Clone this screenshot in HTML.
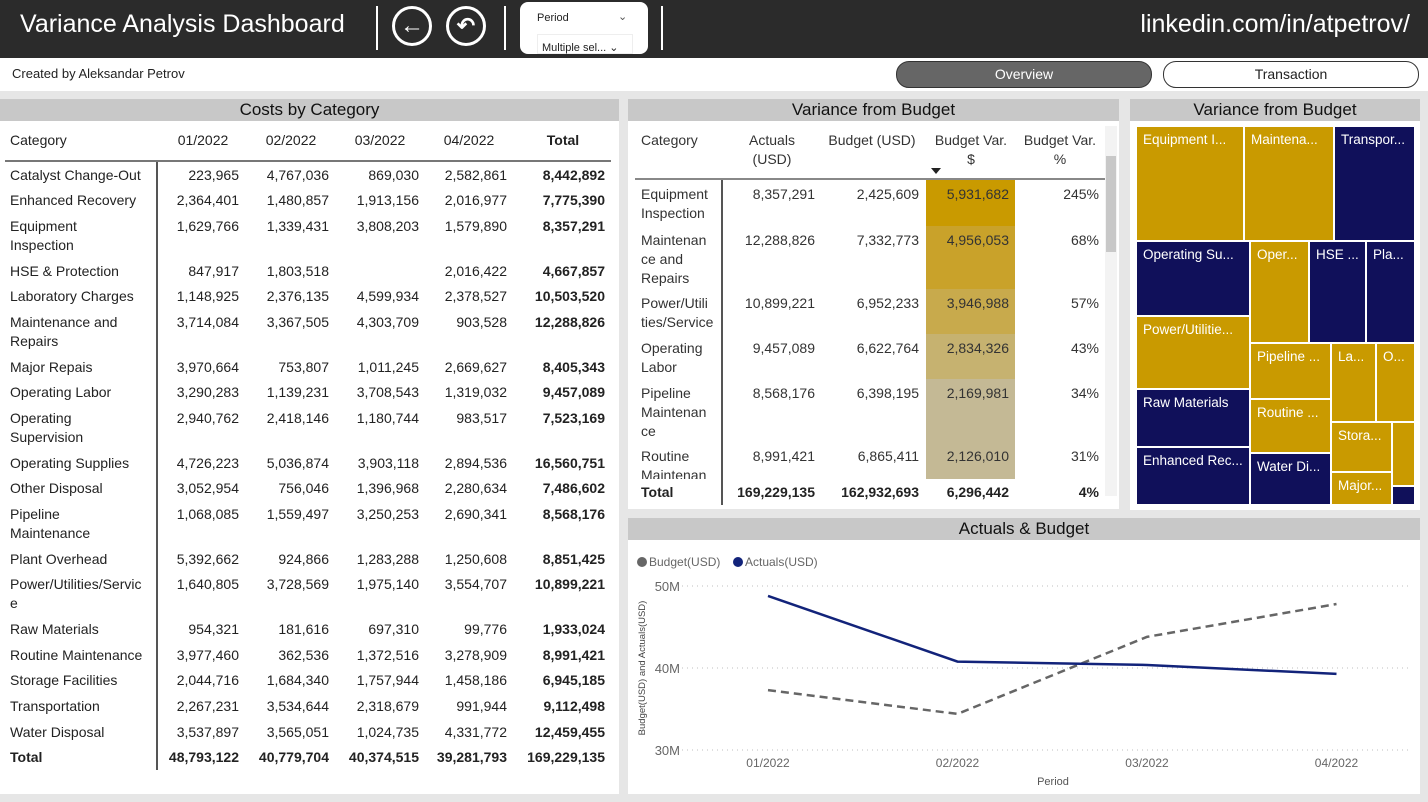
<!DOCTYPE html>
<html><head><meta charset="utf-8">
<style>
*{box-sizing:border-box;margin:0;padding:0}
body{width:1428px;height:802px;background:#e6e6e6;font-family:"Liberation Sans",sans-serif;position:relative;overflow:hidden;color:#222}
.abs{position:absolute}
.hdr{left:0;top:0;width:1428px;height:58px;background:#2b2b2b}
.sep{width:2px;height:44px;background:#fff;top:6px}
.panel{background:#fff}
.ttl{background:#c8c8c8;height:22px;text-align:center;font-size:17px;line-height:22px;color:#111}
.t{position:absolute;font-size:14px;line-height:19px;white-space:nowrap}
.r{text-align:right}
.b{font-weight:bold}
.tm{position:absolute;color:#fff;font-size:13.5px;padding:5px 0 0 6px;white-space:nowrap;overflow:hidden;border:1px solid #fff}
</style></head><body>
<div class="abs hdr"></div>
<div class="abs" style="left:20px;top:10px;font-size:25px;color:#fff">Variance Analysis Dashboard</div>
<div class="abs sep" style="left:376px"></div>
<div class="abs" style="left:392px;top:6px;width:40px;height:40px;border:3px solid #fff;border-radius:50%;color:#fff;font-size:24px;text-align:center;line-height:33px;font-weight:bold">←</div>
<div class="abs" style="left:446px;top:6px;width:40px;height:40px;border:3px solid #fff;border-radius:50%;color:#fff;font-size:22px;text-align:center;line-height:33px;font-weight:bold">↶</div>
<div class="abs sep" style="left:504px"></div>
<div class="abs" style="left:520px;top:2px;width:128px;height:52px;background:#fff;border-radius:8px">
<div class="abs" style="left:17px;top:10px;font-size:11px;color:#222">Period</div>
<div class="abs" style="left:98px;top:8px;font-size:11px;color:#555">⌄</div>
<div class="abs" style="left:17px;top:32px;width:96px;height:20px;border:1px solid #eee;font-size:11px;padding:6px 0 0 4px;color:#222">Multiple sel... ⌄</div>
</div>
<div class="abs sep" style="left:661px"></div>
<div class="abs" style="right:18px;top:10px;font-size:25px;color:#fff">linkedin.com/in/atpetrov/</div>
<div class="abs" style="left:0;top:58px;width:1428px;height:33px;background:#fff"></div>
<div class="abs" style="left:12px;top:66px;font-size:13px;color:#222">Created by Aleksandar Petrov</div>
<div class="abs" style="left:896px;top:61px;width:256px;height:27px;background:#666;border:1px solid #333;border-radius:13px;color:#fff;font-size:14px;text-align:center;line-height:25px">Overview</div>
<div class="abs" style="left:1163px;top:61px;width:256px;height:27px;background:#fff;border:1px solid #333;border-radius:13px;color:#222;font-size:14px;text-align:center;line-height:25px">Transaction</div>

<div class="abs panel" style="left:0;top:99px;width:619px;height:695px">
<div class="ttl">Costs by Category</div>
</div>
<div id="lt"></div>

<div class="abs panel" style="left:628px;top:99px;width:491px;height:410px">
<div class="ttl">Variance from Budget</div>
</div>
<div id="mt"></div>

<div class="abs panel" style="left:1130px;top:99px;width:290px;height:411px">
<div class="ttl">Variance from Budget</div>
</div>
<div id="tm"></div>

<div class="abs panel" style="left:628px;top:518px;width:792px;height:276px">
<div class="ttl">Actuals &amp; Budget</div>
</div>
<svg class="abs" style="left:0;top:0" width="1428" height="802" id="lc"></svg>

<script>
const ltCats=["Catalyst Change-Out","Enhanced Recovery","Equipment<br>Inspection","HSE &amp; Protection","Laboratory Charges","Maintenance and<br>Repairs","Major Repais","Operating Labor","Operating<br>Supervision","Operating Supplies","Other Disposal","Pipeline<br>Maintenance","Plant Overhead","Power/Utilities/Servic<br>e","Raw Materials","Routine Maintenance","Storage Facilities","Transportation","Water Disposal","Total"];
const ltM1=["223,965","2,364,401","1,629,766","847,917","1,148,925","3,714,084","3,970,664","3,290,283","2,940,762","4,726,223","3,052,954","1,068,085","5,392,662","1,640,805","954,321","3,977,460","2,044,716","2,267,231","3,537,897","48,793,122"];
const ltM2=["4,767,036","1,480,857","1,339,431","1,803,518","2,376,135","3,367,505","753,807","1,139,231","2,418,146","5,036,874","756,046","1,559,497","924,866","3,728,569","181,616","362,536","1,684,340","3,534,644","3,565,051","40,779,704"];
const ltM3=["869,030","1,913,156","3,808,203","","4,599,934","4,303,709","1,011,245","3,708,543","1,180,744","3,903,118","1,396,968","3,250,253","1,283,288","1,975,140","697,310","1,372,516","1,757,944","2,318,679","1,024,735","40,374,515"];
const ltM4=["2,582,861","2,016,977","1,579,890","2,016,422","2,378,527","903,528","2,669,627","1,319,032","983,517","2,894,536","2,280,634","2,690,341","1,250,608","3,554,707","99,776","3,278,909","1,458,186","991,944","4,331,772","39,281,793"];
const ltTot=["8,442,892","7,775,390","8,357,291","4,667,857","10,503,520","12,288,826","8,405,343","9,457,089","7,523,169","16,560,751","7,486,602","8,568,176","8,851,425","10,899,221","1,933,024","8,991,421","6,945,185","9,112,498","12,459,455","169,229,135"];
const ltTops=[166,191,217,262,287,313,358,383,409,454,479,505,550,575,620,646,671,697,723,748];
let h='';
h+='<div class="t" style="left:10px;top:131px">Category</div>';
[["01/2022",203],["02/2022",291],["03/2022",380],["04/2022",469]].forEach(c=>{h+=`<div class="t" style="left:${c[1]-30}px;top:131px;width:60px;text-align:center">${c[0]}</div>`});
h+='<div class="t b" style="left:533px;top:131px;width:60px;text-align:center">Total</div>';
h+='<div class="abs" style="left:5px;top:160px;width:606px;height:2px;background:#777"></div>';
h+='<div class="abs" style="left:156px;top:162px;width:2px;height:608px;background:#555"></div>';
ltCats.forEach((c,i)=>{const y=ltTops[i];const b=i==ltCats.length-1?' b':'';
h+=`<div class="t${b}" style="left:10px;top:${y}px">${c}</div>`;
[[ltM1,239],[ltM2,329],[ltM3,419],[ltM4,507]].forEach(m=>{h+=`<div class="t r${b}" style="left:${m[1]-90}px;top:${y}px;width:90px">${m[0][i]}</div>`});
h+=`<div class="t r b" style="left:505px;top:${y}px;width:100px">${ltTot[i]}</div>`;});
document.getElementById('lt').innerHTML=h;

const mtCats=["Equipment<br>Inspection","Maintenan<br>ce and<br>Repairs","Power/Utili<br>ties/Service","Operating<br>Labor","Pipeline<br>Maintenan<br>ce","Routine<br>Maintenan"];
const mtAct=["8,357,291","12,288,826","10,899,221","9,457,089","8,568,176","8,991,421"];
const mtBud=["2,425,609","7,332,773","6,952,233","6,622,764","6,398,195","6,865,411"];
const mtVar=["5,931,682","4,956,053","3,946,988","2,834,326","2,169,981","2,126,010"];
const mtPct=["245%","68%","57%","43%","34%","31%"];
const mtCol=["#c99a00","#c9a22a","#c8aa4c","#c6b270","#c4b995","#c4b995"];
const mtTop=[180,226,289,334,379,442];const mtBot=[225,288,333,378,441,478];
let m='';
const hd='font-size:14px;line-height:19px;color:#333';
m+=`<div class="t" style="left:641px;top:131px;${hd}">Category</div>`;
m+=`<div class="t" style="left:728px;top:131px;width:88px;text-align:center;${hd}">Actuals<br>(USD)</div>`;
m+=`<div class="t" style="left:822px;top:131px;width:100px;text-align:center;${hd}">Budget (USD)</div>`;
m+=`<div class="t" style="left:926px;top:131px;width:90px;text-align:center;${hd}">Budget Var.<br>$</div>`;
m+=`<div class="abs" style="left:931px;top:168px;width:0;height:0;border-left:5px solid transparent;border-right:5px solid transparent;border-top:6px solid #222"></div>`;
m+=`<div class="t" style="left:1016px;top:131px;width:88px;text-align:center;${hd}">Budget Var.<br>%</div>`;
m+=`<div class="abs" style="left:635px;top:178px;width:470px;height:2px;background:#888"></div>`;
m+=`<div class="abs" style="left:721px;top:180px;width:2px;height:325px;background:#555"></div>`;
m+=`<div class="abs" style="left:1105px;top:126px;width:12px;height:370px;background:#f3f3f3"></div>`;
m+=`<div class="abs" style="left:1106px;top:156px;width:10px;height:96px;background:#c8c8c8"></div>`;
m+=`<div class="abs" style="left:636px;top:180px;width:469px;height:299px;overflow:hidden">`;
mtCats.forEach((c,i)=>{const y=mtTop[i]-180;
m+=`<div class="abs" style="left:290px;top:${y}px;width:89px;height:${mtBot[i]-mtTop[i]+1}px;background:${mtCol[i]}"></div>`;
m+=`<div class="t" style="left:5px;top:${y+5}px;color:#333">${c}</div>`;
m+=`<div class="t r" style="left:80px;top:${y+5}px;width:99px;color:#333">${mtAct[i]}</div>`;
m+=`<div class="t r" style="left:180px;top:${y+5}px;width:103px;color:#333">${mtBud[i]}</div>`;
m+=`<div class="t r" style="left:280px;top:${y+5}px;width:93px;color:#333">${mtVar[i]}</div>`;
m+=`<div class="t r" style="left:380px;top:${y+5}px;width:83px;color:#333">${mtPct[i]}</div>`;});
m+='</div>';
m+=`<div class="t b" style="left:641px;top:483px">Total</div>`;
m+=`<div class="t r b" style="left:716px;top:483px;width:99px">169,229,135</div>`;
m+=`<div class="t r b" style="left:816px;top:483px;width:103px">162,932,693</div>`;
m+=`<div class="t r b" style="left:916px;top:483px;width:93px">6,296,442</div>`;
m+=`<div class="t r b" style="left:1016px;top:483px;width:83px">4%</div>`;
document.getElementById('mt').innerHTML=m;

const G="#c99a00",N="#10105a";
const tmRects=[["Equipment I...",1136,126,1244,241,G],["Maintena...",1244,126,1334,241,G],["Transpor...",1334,126,1415,241,N],
["Operating Su...",1136,241,1250,316,N],["Power/Utilitie...",1136,316,1250,389,G],["Raw Materials",1136,389,1250,447,N],["Enhanced Rec...",1136,447,1250,505,N],
["Oper...",1250,241,1309,343,G],["HSE ...",1309,241,1366,343,N],["Pla...",1366,241,1415,343,N],
["Pipeline ...",1250,343,1331,399,G],["Routine ...",1250,399,1331,453,G],["Water Di...",1250,453,1331,505,N],
["La...",1331,343,1376,422,G],["O...",1376,343,1415,422,G],["Stora...",1331,422,1392,472,G],["Major...",1331,472,1392,505,G],["",1392,422,1415,486,G],["",1392,486,1415,505,N]];
let t='';
tmRects.forEach(r=>{t+=`<div class="tm" style="left:${r[1]}px;top:${r[2]}px;width:${r[3]-r[1]}px;height:${r[4]-r[2]}px;background:${r[5]}">${r[0]}</div>`});
document.getElementById('tm').innerHTML=t;

const periods=["01/2022","02/2022","03/2022","04/2022"];
const actuals=[48.79,40.78,40.37,39.28];
const budget=[37.3,34.4,43.8,47.8];
const yTicks=[30,40,50];
const yTickLabels=["30M","40M","50M"];
const x=i=>768+i*189.5;
const y=v=>750-(v-30)*8.2;
const NS="http://www.w3.org/2000/svg";
const svg=document.getElementById('lc');
function mk(tag,attrs,txt){const e=document.createElementNS(NS,tag);for(const k in attrs)e.setAttribute(k,attrs[k]);if(txt!==undefined)e.textContent=txt;svg.appendChild(e);return e;}
yTicks.forEach((v,i)=>{
const g=mk('line',{x1:682,x2:1412,y1:y(v),y2:y(v),stroke:'#ccc','stroke-dasharray':'1 4','stroke-width':1.2});


const l=mk('text',{x:680,y:y(v)+5,'text-anchor':'end','font-size':13,fill:'#666','font-family':'Liberation Sans'},yTickLabels[i]);

});
periods.forEach((p,i)=>{const l=mk('text',{x:x(i),y:767,'text-anchor':'middle','font-size':12,fill:'#666','font-family':'Liberation Sans'},p);

});
const xt=mk('text',{x:1053,y:785,'text-anchor':'middle','font-size':11,fill:'#555','font-family':'Liberation Sans'},'Period');


const yt=mk('text',{x:0,y:0,'text-anchor':'middle','font-size':9.5,fill:'#444','font-family':'Liberation Sans',transform:'translate(645,668) rotate(-90)'},'Budget(USD) and Actuals(USD)');


const bl=mk('polyline',{points:budget.map((v,i)=>x(i)+','+y(v)).join(' '),fill:'none',stroke:'#666','stroke-width':2.5,'stroke-dasharray':'8 5'});


const al=mk('polyline',{points:actuals.map((v,i)=>x(i)+','+y(v)).join(' '),fill:'none',stroke:'#12237a','stroke-width':2.5});


const d1=mk('circle',{cx:642,cy:562,r:5,fill:'#666'});


const t1=mk('text',{x:649,y:566,'font-size':12,fill:'#666','font-family':'Liberation Sans'},'Budget(USD)');


const d2=mk('circle',{cx:738,cy:562,r:5,fill:'#12237a'});


const t2=mk('text',{x:745,y:566,'font-size':12,fill:'#666','font-family':'Liberation Sans'},'Actuals(USD)');


</script>
</body></html>
